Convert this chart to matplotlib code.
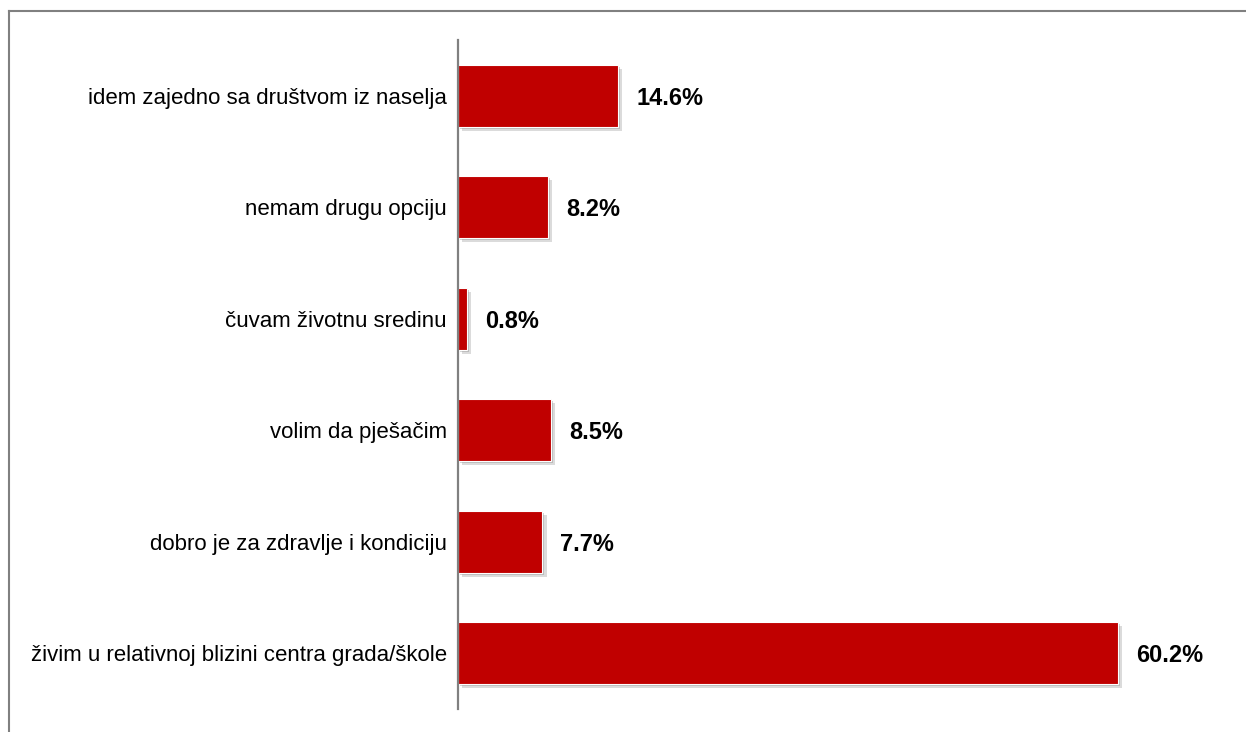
import matplotlib
matplotlib.use("Agg")
import matplotlib.pyplot as plt
import matplotlib.patheffects as pe
from matplotlib.lines import Line2D
from matplotlib import font_manager

categories = [
    "idem zajedno sa društvom iz naselja",
    "nemam drugu opciju",
    "čuvam životnu sredinu",
    "volim da pješačim",
    "dobro je za zdravlje i kondiciju",
    "živim u relativnoj blizini centra grada/škole",
]
values = [14.6, 8.2, 0.8, 8.5, 7.7, 60.2]
value_labels = ["14.6%", "8.2%", "0.8%", "8.5%", "7.7%", "60.2%"]

available = {f.name for f in font_manager.fontManager.ttflist}
label_font = ["Liberation Sans", "DejaVu Sans"]
value_font = (["Liberation Sans Narrow"] if "Liberation Sans Narrow" in available else []) + ["Liberation Sans", "DejaVu Sans"]

W, H = 1246, 732
fig = plt.figure(figsize=(W / 100, H / 100), dpi=100)
fig.patch.set_facecolor("white")

ax = fig.add_axes([458 / W, (H - 709) / H, (1240 - 458) / W, (709 - 40) / H])

ypos = list(range(len(categories)))
bars = ax.barh(ypos, values, height=0.555, color="#C00000", edgecolor="white", linewidth=0.8)
for b in bars:
    b.set_path_effects([
        pe.SimplePatchShadow(offset=(3, -3), shadow_rgbFace="#9a9a9a", alpha=0.35),
        pe.SimplePatchShadow(offset=(1.5, -1.5), shadow_rgbFace="#808080", alpha=0.35),
        pe.Normal(),
    ])

ax.set_ylim(len(categories) - 0.5, -0.5)
ax.set_xlim(0, (1240 - 458) / 10.96)

ax.set_yticks(ypos)
ax.set_yticklabels(categories, fontfamily=label_font, fontsize=16, color="black")
ax.tick_params(axis="y", length=0, pad=8)
ax.set_xticks([])

for side in ("top", "right", "bottom"):
    ax.spines[side].set_visible(False)
ax.spines["left"].set_color("#808080")
ax.spines["left"].set_linewidth(1.6)

for y, v, lab in zip(ypos, values, value_labels):
    ax.annotate(lab, xy=(v, y), xytext=(13, 0), textcoords="offset points",
                va="center_baseline", ha="left", fontsize=17, fontweight="bold",
                fontfamily=value_font, color="black")

# outer frame: top and left edges
fig.add_artist(Line2D([8.5 / W, 8.5 / W], [0, (H - 11) / H], transform=fig.transFigure,
                      color="#808080", linewidth=1.5))
fig.add_artist(Line2D([8.5 / W, 1], [(H - 11) / H, (H - 11) / H], transform=fig.transFigure,
                      color="#808080", linewidth=1.5))

fig.savefig("out.png", dpi=100, facecolor="white")
